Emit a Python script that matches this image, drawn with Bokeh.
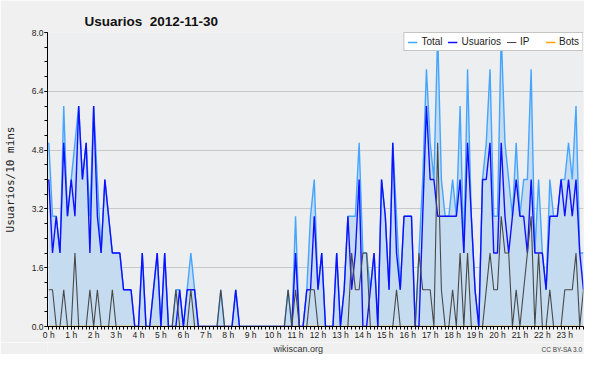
from bokeh.plotting import figure
from bokeh.layouts import column
from bokeh.models import (Range1d, FixedTicker, PrintfTickFormatter, Legend,
                          LegendItem, Title, Label, ColumnDataSource)
from bokeh.embed import file_html
from bokeh.resources import INLINE

# 10-minute slots of 2012-11-30
minutes = list(range(0, 1440, 10))

total = [5, 3, 3, 2, 6, 3, 4, 5, 6, 4, 5, 3,
         6, 4, 2, 4, 3, 2, 2, 2, 1, 1, 1, 0,
         0, 2, 0, 0, 1, 2, 0, 2, 0, 0, 1, 1,
         0, 1, 2, 1, 0, 0, 0, 0, 0, 0, 1, 0,
         0, 0, 1, 0, 0, 0, 0, 0, 0, 0, 0, 0,
         0, 0, 0, 0, 1, 0, 3, 0, 0, 1, 3, 4,
         1, 2, 0, 0, 0, 2, 0, 1, 3, 3, 3, 5,
         2, 2, 1, 2, 0, 4, 3, 1, 5, 3, 1, 3,
         3, 3, 0, 2, 4, 7, 5, 4, 8, 4, 3, 3,
         4, 3, 6, 2, 7, 3, 1, 0, 4, 5, 7, 3,
         3, 8, 5, 4, 3, 5, 3, 4, 4, 7, 2, 4,
         2, 1, 4, 3, 3, 4, 4, 5, 4, 6, 2, 2]

usuarios = [4, 2, 3, 2, 5, 3, 4, 3, 6, 4, 5, 2,
            6, 3, 2, 4, 3, 2, 2, 2, 1, 1, 1, 0,
            0, 2, 0, 0, 1, 2, 0, 2, 0, 0, 0, 1,
            0, 1, 1, 1, 0, 0, 0, 0, 0, 0, 0, 0,
            0, 0, 1, 0, 0, 0, 0, 0, 0, 0, 0, 0,
            0, 0, 0, 0, 0, 0, 2, 0, 0, 1, 1, 3,
            1, 2, 0, 0, 0, 2, 0, 1, 3, 1, 2, 4,
            0, 0, 1, 2, 0, 4, 3, 1, 5, 2, 1, 3,
            3, 3, 0, 0, 3, 6, 4, 4, 3, 3, 3, 3,
            3, 3, 4, 2, 5, 3, 1, 0, 4, 4, 5, 2,
            2, 5, 3, 2, 3, 4, 3, 3, 2, 4, 2, 2,
            2, 1, 3, 3, 3, 4, 3, 4, 3, 4, 2, 1]

ip = [1, 1, 0, 0, 1, 0, 0, 2, 0, 0, 0, 1,
      0, 1, 0, 0, 0, 1, 0, 0, 0, 0, 0, 0,
      0, 0, 0, 0, 0, 0, 0, 0, 0, 0, 1, 0,
      0, 0, 1, 0, 0, 0, 0, 0, 0, 0, 1, 0,
      0, 0, 0, 0, 0, 0, 0, 0, 0, 0, 0, 0,
      0, 0, 0, 0, 1, 0, 1, 0, 0, 0, 1, 1,
      0, 0, 0, 0, 0, 0, 0, 0, 0, 2, 1, 1,
      2, 2, 0, 0, 0, 0, 0, 0, 0, 1, 0, 0,
      0, 0, 0, 2, 1, 1, 1, 0, 5, 1, 0, 0,
      1, 0, 2, 0, 2, 0, 0, 0, 0, 1, 2, 1,
      1, 3, 2, 2, 0, 1, 0, 1, 2, 3, 0, 2,
      0, 0, 1, 0, 0, 0, 1, 1, 1, 2, 0, 1]

bots = [0, 0, 0, 0, 0, 0, 0, 0, 0, 0, 0, 0,
        0, 0, 0, 0, 0, 0, 0, 0, 0, 0, 0, 0,
        0, 0, 0, 0, 0, 0, 0, 0, 0, 0, 0, 0,
        0, 0, 0, 0, 0, 0, 0, 0, 0, 0, 0, 0,
        0, 0, 0, 0, 0, 0, 0, 0, 0, 0, 0, 0,
        0, 0, 0, 0, 0, 0, 0, 0, 0, 0, 0, 0,
        0, 0, 0, 0, 0, 0, 0, 0, 0, 0, 0, 0,
        0, 0, 0, 0, 0, 0, 0, 0, 0, 0, 0, 0,
        0, 0, 0, 0, 0, 0, 0, 0, 0, 0, 0, 0,
        0, 0, 0, 0, 0, 0, 0, 0, 0, 0, 0, 0,
        0, 0, 0, 0, 0, 0, 0, 0, 0, 0, 0, 0,
        0, 0, 0, 0, 0, 0, 0, 0, 0, 0, 0, 0]

hour_ticks = list(range(24))
hour_labels = ["0 h", "1 h", "2 h", "3 h", "4 h", "5 h", "6 h", "7 h",
               "8 h", "9 h", "10 h", "11 h", "12 h", "13 h", "14 h", "15 h",
               "16 h", "17 h", "18 h", "19 h", "20 h", "21 h", "22 h", "23 h"]
y_ticks = [0.0, 1.6, 3.2, 4.8, 6.4, 8.0]

title_text = "Usuarios\u00a0 2012-11-30"
y_label = "Usuarios/10 mins"
footer = "wikiscan.org"
license_text = "CC BY-SA 3.0"

x_hours = [m / 60 for m in minutes]
src = ColumnDataSource(dict(x=x_hours, total=total, usuarios=usuarios,
                            ip=ip, bots=bots, zero=[0] * len(x_hours)))

FONT = "Liberation Sans"
BG = "#f0f0f0"
XR = (-0.057, 23.834)

p = figure(width=584, height=342, output_backend="svg", toolbar_location=None,
           x_range=Range1d(*XR), y_range=Range1d(0, 8),
           min_border_left=45, min_border_right=1, min_border_top=32,
           min_border_bottom=0,
           background_fill_color="#edeef0", border_fill_color=BG,
           outline_line_color=None)

p.title = Title(text=title_text, align="left", offset=37, standoff=8,
                text_font=FONT, text_font_style="bold", text_font_size="13.5px",
                text_color="#111111")

# area + lines
p.varea(x="x", y1="zero", y2="total", source=src, fill_color="#c4dbf0")
r_bots = p.line("x", "bots", source=src, line_color="#ffa500", line_width=1.3)
r_total = p.line("x", "total", source=src, line_color="#45a5ff", line_width=1.4)
r_users = p.line("x", "usuarios", source=src, line_color="#1010ff", line_width=1.4)
r_ip = p.line("x", "ip", source=src, line_color="#484848", line_width=1.1)

# axes
p.xaxis.ticker = FixedTicker(ticks=hour_ticks, minor_ticks=x_hours)
p.xaxis.major_label_overrides = {h: lbl for h, lbl in zip(hour_ticks, hour_labels)}
p.yaxis.ticker = FixedTicker(ticks=y_ticks,
                             minor_ticks=[round(0.4 * k, 1) for k in range(21)])
p.yaxis.formatter = PrintfTickFormatter(format="%.1f")
for ax in (p.xaxis[0], p.yaxis[0]):
    ax.axis_line_color = "black"
    ax.major_tick_line_color = "black"
    ax.minor_tick_line_color = "black"
    ax.major_tick_in = 0
    ax.major_tick_out = 3
    ax.minor_tick_in = 0
    ax.minor_tick_out = 3
    ax.major_label_text_font = FONT
    ax.major_label_text_color = "#222222"
    ax.major_label_standoff = 1
p.xaxis.major_label_standoff = 0
p.xaxis.major_label_text_font_size = "8.5px"
p.yaxis.major_label_text_font_size = "8.5px"
p.yaxis.axis_label = y_label
p.yaxis.axis_label_text_font = "DejaVu Sans Mono"
p.yaxis.axis_label_text_font_size = "11px"
p.yaxis.axis_label_text_font_style = "normal"
p.yaxis.axis_label_text_color = "#222222"
p.yaxis.axis_label_standoff = 12

p.xgrid.visible = False
p.ygrid.grid_line_color = "#c8c8c8"
p.ygrid.grid_line_width = 1

legend = Legend(items=[LegendItem(label="Total", renderers=[r_total]),
                       LegendItem(label="Usuarios", renderers=[r_users]),
                       LegendItem(label="IP", renderers=[r_ip]),
                       LegendItem(label="Bots", renderers=[r_bots])],
                orientation="horizontal", location="top_right",
                label_text_font=FONT, label_text_font_size="10px",
                label_text_color="#222222",
                glyph_width=10, glyph_height=10, label_height=10,
                label_standoff=4, spacing=5, padding=3, margin=0,
                border_line_color="#8c8c8c", border_line_width=1.5,
                background_fill_color="white", background_fill_alpha=1.0)
p.add_layout(legend)

# footer strip (same horizontal scale as the chart)
f = figure(width=584, height=12, output_backend="svg", toolbar_location=None,
           x_range=Range1d(*XR), y_range=Range1d(0, 1),
           x_axis_type=None, y_axis_type=None,
           min_border=0, min_border_left=45, min_border_right=1,
           background_fill_color=BG, border_fill_color=BG,
           outline_line_color=None)
f.grid.visible = False
f.add_layout(Label(x=11.12, y=0.5, text=footer, text_font=FONT,
                   text_font_size="9px", text_color="#333333",
                   text_align="center", text_baseline="middle"))
f.add_layout(Label(x=23.79, y=0.4, text=license_text, text_font=FONT,
                   text_font_size="6.5px", text_color="#444444",
                   text_align="right", text_baseline="middle"))

layout = column(p, f, spacing=0)
open("out.html", "w").write(file_html(layout, INLINE))
